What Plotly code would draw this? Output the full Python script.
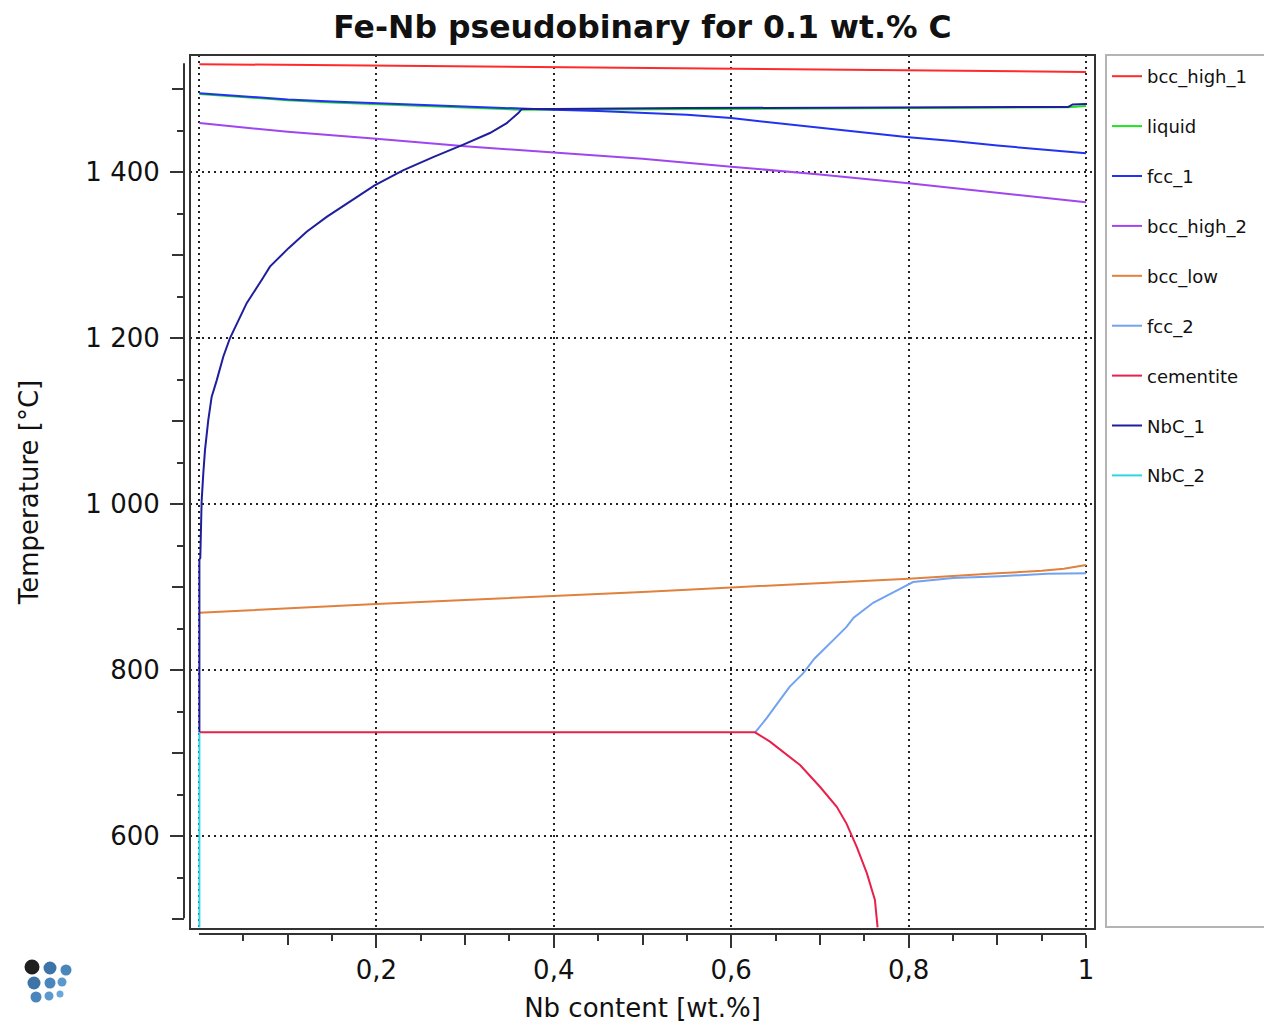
import plotly.graph_objects as go

# ---------------- data ----------------
bcc_high_1_x = [0.0005, 0.25, 0.5, 0.75, 1.0]
bcc_high_1_t = [1530, 1527.6, 1525.3, 1523, 1520.6]

liquid_x = [0.0005, 0.05, 0.1, 0.15, 0.2, 0.25, 0.3, 0.364, 0.45, 0.6, 0.75, 0.85, 0.95, 0.98, 1.0]
liquid_t = [1494, 1490, 1486.5, 1483.8, 1481.8, 1479.4, 1477.4, 1475, 1475.3, 1476, 1477, 1477.3, 1477.6, 1478, 1479.5]

fcc_1_x = [0.0005, 0.05, 0.1, 0.15, 0.2, 0.25, 0.3, 0.364, 0.4, 0.45, 0.5, 0.55, 0.6, 0.65, 0.7,
           0.75, 0.8, 0.85, 0.9, 0.95, 1.0]
fcc_1_t = [1495, 1491, 1487.5, 1485, 1483, 1480.5, 1478.5, 1476, 1475, 1473.5, 1471.5, 1469, 1465, 1459, 1453,
           1447.5, 1442, 1437.5, 1432, 1427, 1422.5]

bcc_high_2_x = [0.0005, 0.1, 0.2, 0.3, 0.4, 0.5, 0.6, 0.7, 0.8, 0.9, 1.0]
bcc_high_2_t = [1459, 1448.5, 1440, 1431, 1423.5, 1416, 1406.5, 1397, 1386.5, 1375, 1363.5]

bcc_low_x = [0.0005, 0.1, 0.2, 0.3, 0.4, 0.5, 0.6, 0.7, 0.8, 0.9, 0.95, 0.975, 1.0]
bcc_low_t = [869, 874.5, 879.5, 884.5, 889, 894, 899.5, 905, 910, 916.5, 919.5, 922, 926.5]

fcc_2_x = [0.627, 0.640, 0.655, 0.666, 0.681, 0.694, 0.715, 0.730, 0.738, 0.760, 0.787, 0.805,
           0.850, 0.903, 0.956, 1.0]
fcc_2_t = [725, 742, 764, 780, 796, 814, 836, 852, 863, 881, 896, 906, 911, 913, 916, 916.5]

cementite_x = [0.0005, 0.6268, 0.6437, 0.6607, 0.6776, 0.700, 0.719, 0.730, 0.7415, 0.753, 0.762, 0.765]
cementite_t = [725, 725, 713.7, 699.6, 685.5, 659.4, 635.3, 615, 587, 555, 523, 490]

nbc_1_x = [0.0005, 0.0005, 0.0015, 0.003, 0.0049, 0.0068, 0.0105, 0.0143, 0.020, 0.0274, 0.035, 0.0538,
           0.0707, 0.080, 0.1007, 0.1214, 0.144, 0.1665, 0.198, 0.230, 0.264, 0.298, 0.328, 0.347,
           0.360, 0.364, 0.40, 0.55, 0.75, 0.98, 0.985, 1.0]
nbc_1_t = [725, 933, 935, 1003, 1037, 1065, 1101, 1129, 1149, 1177.5, 1200, 1242,
           1270, 1286, 1308, 1328, 1346, 1362, 1384, 1402, 1418, 1433, 1447, 1459,
           1471, 1476, 1476, 1477, 1478, 1478.5, 1481.5, 1482]

nbc_2_x = [0.0005, 0.0005]
nbc_2_t = [490, 725]

series = [
    ("bcc_high_1", bcc_high_1_x, bcc_high_1_t, "#FF2A2A"),
    ("liquid", liquid_x, liquid_t, "#22E022"),
    ("fcc_1", fcc_1_x, fcc_1_t, "#2233F0"),
    ("bcc_high_2", bcc_high_2_x, bcc_high_2_t, "#A046F0"),
    ("bcc_low", bcc_low_x, bcc_low_t, "#E0813E"),
    ("fcc_2", fcc_2_x, fcc_2_t, "#72A2F0"),
    ("cementite", cementite_x, cementite_t, "#E8204A"),
    ("NbC_1", nbc_1_x, nbc_1_t, "#1E1E9E"),
    ("NbC_2", nbc_2_x, nbc_2_t, "#2ED6E2"),
]

x_major = [0.2, 0.4, 0.6, 0.8, 1.0]
x_major_text = ["0,2", "0,4", "0,6", "0,8", "1"]
x_mid = [0.1, 0.3, 0.5, 0.7, 0.9]
x_minor = [0.05, 0.15, 0.25, 0.35, 0.45, 0.55, 0.65, 0.75, 0.85, 0.95]
x_grid = [0.0, 0.2, 0.4, 0.6, 0.8, 1.0]

y_major = [600, 800, 1000, 1200, 1400]
y_major_text = ["600", "800", "1 000", "1 200", "1 400"]
y_mid = [500, 700, 900, 1100, 1300, 1500]
y_minor = [550, 650, 750, 850, 950, 1050, 1150, 1250, 1350, 1450]

x_range = [-0.0101, 1.0101]
y_range = [488, 1541]

# ---------------- layout geometry ----------------
# the page body adds an 8px offset, so the figure is laid out 8px smaller
OFF = 8
W, H = 1264, 1017
ML, MT = 184 - OFF, 55 - OFF
PW, PH = 911, 879
MR, MB = W - ML - PW, H - MT - PH


def px_x(p):
    """screen pixel x -> paper x"""
    return (p - OFF - ML) / PW


def px_y(p):
    """screen pixel y -> paper y"""
    return (MT + PH - (p - OFF)) / PH


FONT = "DejaVu Sans, Verdana, sans-serif"
AX = "#333333"
TXT = "#111111"

fig = go.Figure()
for name, xs, ts, col in series:
    fig.add_trace(go.Scatter(x=xs, y=ts, mode="lines", name=name, legendgroup=name,
                             line=dict(color=col, width=2)))

# empty helper traces so that the detached tick axes get drawn
for xa, ya in [("x2", "y"), ("x3", "y"), ("x", "y2"), ("x", "y3")]:
    fig.add_trace(go.Scatter(x=[None], y=[None], xaxis=xa, yaxis=ya, showlegend=False,
                             hoverinfo="skip", mode="lines"))

x_dom = [px_x(190), 1.0]
y_dom = [px_y(929), 1.0]

common_x = dict(range=x_range, showgrid=False, zeroline=False, showline=False, automargin=False)
common_y = dict(range=y_range, showgrid=False, zeroline=False, showline=False, automargin=False)

fig.update_layout(
    width=W, height=H,
    margin=dict(l=ML, r=MR, t=MT, b=MB),
    paper_bgcolor="white", plot_bgcolor="white",
    font=dict(family=FONT, color=TXT),
    title=dict(text="<b>Fe-Nb pseudobinary for 0.1 wt.% C</b>", x=(642.5 - OFF) / W, xref="container",
               xanchor="center", y=1 - (27 - OFF) / H, yref="container", yanchor="middle",
               font=dict(size=31.5, family=FONT, color=TXT)),
    xaxis=dict(domain=x_dom, tickvals=x_grid, showticklabels=False, ticks="",
               showgrid=True, gridcolor="#222222", gridwidth=1.5, griddash="2px,4px",
               range=x_range, zeroline=False, showline=False, automargin=False),
    yaxis=dict(domain=y_dom, tickvals=y_major, showticklabels=False, ticks="",
               showgrid=True, gridcolor="#222222", gridwidth=1.5, griddash="2px,4px",
               range=y_range, zeroline=False, showline=False, automargin=False),
    xaxis2=dict(overlaying="x", anchor="free", position=0, side="bottom",
                tickvals=x_major, ticktext=x_major_text, ticks="outside", ticklen=13,
                tickwidth=2, tickcolor=AX, tickfont=dict(size=26, family=FONT, color=TXT),
                minor=dict(tickvals=x_minor, ticks="outside", ticklen=6, tickwidth=2, tickcolor=AX),
                title=dict(text="Nb content [wt.%]", font=dict(size=26, family=FONT, color=TXT),
                           standoff=14),
                **common_x),
    xaxis3=dict(overlaying="x", anchor="free", position=0, side="bottom",
                tickvals=x_mid, showticklabels=False, ticks="outside", ticklen=10,
                tickwidth=2, tickcolor=AX, **common_x),
    yaxis2=dict(overlaying="y", anchor="free", position=0, side="left",
                tickvals=y_major, ticktext=y_major_text, ticks="outside", ticklen=14,
                tickwidth=2, tickcolor=AX, tickfont=dict(size=26, family=FONT, color=TXT),
                ticklabelstandoff=5,
                minor=dict(tickvals=y_minor, ticks="outside", ticklen=7, tickwidth=2, tickcolor=AX),
                title=dict(text="Temperature [°C]", font=dict(size=26, family=FONT, color=TXT),
                           standoff=38),
                **common_y),
    yaxis3=dict(overlaying="y", anchor="free", position=0, side="left",
                tickvals=y_mid, showticklabels=False, ticks="outside", ticklen=12,
                tickwidth=2, tickcolor=AX, **common_y),
    legend=dict(x=px_x(1107), y=px_y(58), xanchor="left", yanchor="top",
                font=dict(size=18, family=FONT, color=TXT),
                bgcolor="rgba(0,0,0,0)", borderwidth=0, tracegroupgap=23.5,
                itemwidth=30),
    showlegend=True,
)

shapes = []
# plot frame
shapes.append(dict(type="rect", xref="paper", yref="paper", x0=x_dom[0], x1=1, y0=y_dom[0], y1=1,
                   line=dict(color=AX, width=2), layer="above"))
# detached axis lines
shapes.append(dict(type="line", xref="x", yref="paper", x0=0, x1=1, y0=0, y1=0,
                   line=dict(color=AX, width=2)))
shapes.append(dict(type="line", xref="paper", yref="y", x0=0, x1=0, y0=501, y1=1531,
                   line=dict(color=AX, width=2)))
# legend box
shapes.append(dict(type="rect", xref="paper", yref="paper", x0=px_x(1106), x1=px_x(1265),
                   y0=px_y(927), y1=px_y(55), line=dict(color="#B4B4B4", width=2)))

# logo (decorative spheres)
logo = [(32, 967, 7.5, "#202020"), (50, 968, 6.5, "#3C74A8"), (66, 970, 5.5, "#4A86BC"),
        (34, 983, 6.5, "#3C74A8"), (50, 983, 5.5, "#4A86BC"), (62, 982, 4.5, "#5A98CE"),
        (36, 997, 5.5, "#4A86BC"), (49, 996, 4.5, "#5A98CE"), (60, 994, 3.5, "#6AA8DC")]
for cx, cy, r, c in logo:
    shapes.append(dict(type="circle", xref="paper", yref="paper",
                       x0=px_x(cx - r), x1=px_x(cx + r), y0=px_y(cy + r), y1=px_y(cy - r),
                       fillcolor=c, line=dict(width=0)))

fig.update_layout(shapes=shapes)

fig.write_html("out.html")
